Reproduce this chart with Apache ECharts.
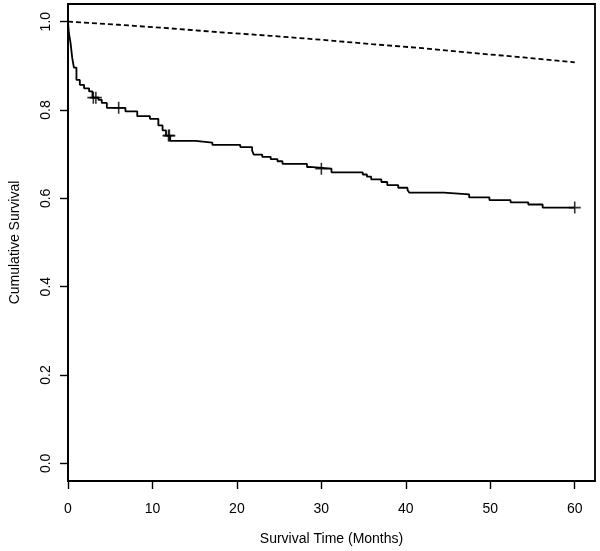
<!DOCTYPE html>
<html>
<head>
<meta charset="utf-8">
<script src="https://cdn.jsdelivr.net/npm/echarts@6/dist/echarts.min.js"></script>
<style>
html,body{margin:0;padding:0;background:#fff;}
#chart{width:600px;height:551px;}
</style>
</head>
<body>
<div id="chart"></div>
<script>
// Kaplan-Meier (observed) survival: event times and survival after each step
var kmTimes = [0,0.1,0.3,0.5,0.7,1.0,1.4,1.9,2.5,2.9,3.6,4.0,4.6,6.8,8.2,9.7,10.7,11.2,11.6,12.1,15.1,17.1,20.4,21.8,22.0,23.0,24.0,24.8,25.4,28.3,28.6,31.2,34.9,35.4,35.9,37.1,37.8,39.1,40.2,40.4,44.5,47.5,49.9,52.4,54.5,56.2,60];
var kmSurv  = [1.0,0.975,0.952,0.918,0.896,0.868,0.857,0.849,0.842,0.828,0.823,0.816,0.805,0.797,0.786,0.780,0.765,0.754,0.742,0.730,0.726,0.721,0.716,0.708,0.699,0.694,0.689,0.684,0.678,0.671,0.667,0.659,0.654,0.649,0.643,0.637,0.630,0.624,0.619,0.613,0.609,0.602,0.596,0.591,0.586,0.579,0.579];
// Censored observations
var censorTimes = [3.0,3.3,6.0,11.9,12.0,30.0,60.0];
var censorSurv  = [0.828,0.828,0.805,0.742,0.742,0.667,0.579];
// Expected survival (dashed)
var expTimes = [0,6,12,18,24,30,36,42,48,54,60];
var expSurv  = [1.0,0.993,0.985,0.976,0.968,0.959,0.949,0.940,0.929,0.919,0.908];
// Axis ticks
var xTicks = [0,10,20,30,40,50,60];
var yTicks = [0,0.2,0.4,0.6,0.8,1.0];
var xTitle = 'Survival Time (Months)';
var yTitle = 'Cumulative Survival';

function zip(a,b){return a.map(function(v,i){return [v,b[i]];});}

var chart = echarts.init(document.getElementById('chart'), null, {renderer:'canvas'});
var fontFam = 'Liberation Sans, Arial, sans-serif';
chart.setOption({
  animation:false,
  backgroundColor:'#fff',
  grid:{left:65,top:4,right:5,bottom:68,show:true,borderColor:'#000',borderWidth:1.8,backgroundColor:'transparent'},
  xAxis:{
    type:'value',min:0,max:62.4,
    name:xTitle,nameLocation:'middle',nameGap:51,
    nameTextStyle:{color:'#000',fontSize:14,fontFamily:fontFam},
    axisLine:{show:true,onZero:false,lineStyle:{color:'#000',width:1.8}},
    axisTick:{show:true,inside:false,length:8,customValues:xTicks,lineStyle:{color:'#000',width:1.4}},
    axisLabel:{show:true,margin:21,customValues:xTicks,color:'#000',fontSize:14,fontFamily:fontFam,formatter:function(v){return String(v);}},
    splitLine:{show:false}
  },
  yAxis:{
    type:'value',min:-0.04,max:1.04,
    name:yTitle,nameLocation:'middle',nameGap:46,nameRotate:90,
    nameTextStyle:{color:'#000',fontSize:14,fontFamily:fontFam},
    axisLine:{show:true,onZero:false,lineStyle:{color:'#000',width:1.8}},
    axisTick:{show:true,inside:false,length:8,customValues:yTicks,lineStyle:{color:'#000',width:1.4}},
    axisLabel:{show:true,rotate:90,margin:15,customValues:yTicks,color:'#000',fontSize:14,fontFamily:fontFam,formatter:function(v){return v.toFixed(1);}},
    splitLine:{show:false}
  },
  series:[
    {
      type:'line',data:zip(expTimes,expSurv),showSymbol:false,
      lineStyle:{color:'#000',width:1.8,type:[5,3]},z:2
    },
    {
      type:'line',step:'end',data:zip(kmTimes,kmSurv),showSymbol:false,
      lineStyle:{color:'#000',width:1.8},z:3
    },
    {
      type:'scatter',data:zip(censorTimes,censorSurv),
      symbol:'path://M5,0L5,10M0,5L10,5',symbolSize:12,
      itemStyle:{color:'rgba(0,0,0,0)',borderColor:'#000',borderWidth:1.6},z:4
    }
  ]
});
</script>
</body>
</html>
